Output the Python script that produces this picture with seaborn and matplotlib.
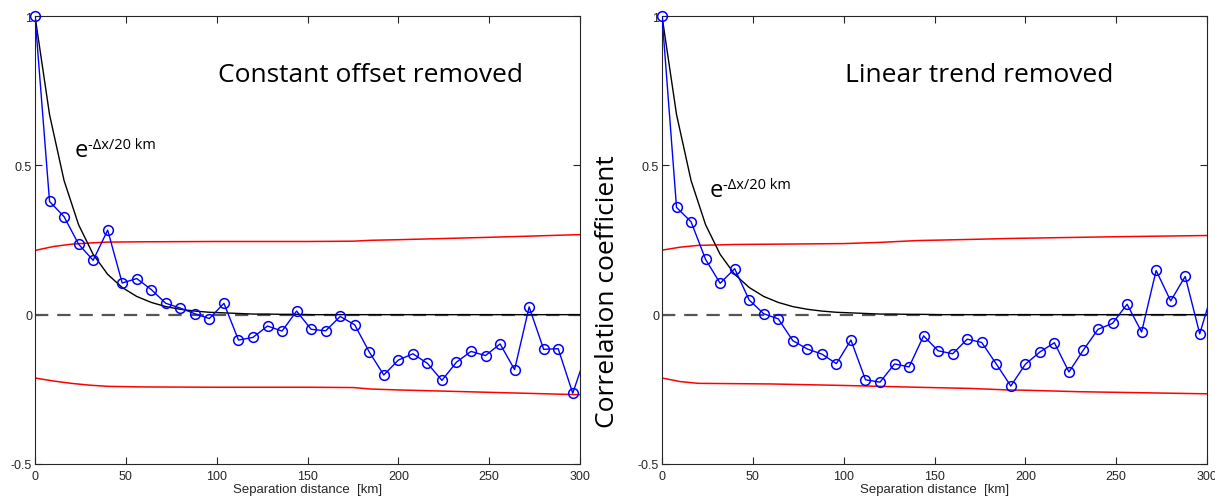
import numpy as np
import pandas as pd
import seaborn as sns
import matplotlib.pyplot as plt

# lag distances (km), 8 km bins; last one sits just outside the axis
lag = [0, 8, 16, 24, 32, 40, 48, 56, 64, 72, 80, 88, 96, 104, 112, 120, 128,
       136, 144, 152, 160, 168, 176, 184, 192, 200, 208, 216, 224, 232, 240,
       248, 256, 264, 272, 280, 288, 296, 304]

# correlation, constant offset removed
corr_offset = [1.0, 0.379, 0.328, 0.236, 0.182, 0.283, 0.106, 0.121, 0.084,
               0.038, 0.022, 0.003, -0.013, 0.038, -0.085, -0.076, -0.038,
               -0.055, 0.012, -0.049, -0.054, -0.006, -0.034, -0.125, -0.202,
               -0.152, -0.131, -0.163, -0.220, -0.159, -0.123, -0.137, -0.098,
               -0.184, 0.026, -0.116, -0.114, -0.263, -0.120]

# correlation, linear trend removed
corr_trend = [1.0, 0.359, 0.311, 0.185, 0.105, 0.154, 0.049, 0.003, -0.014,
              -0.087, -0.115, -0.132, -0.164, -0.085, -0.218, -0.226, -0.165,
              -0.175, -0.071, -0.121, -0.131, -0.082, -0.093, -0.165, -0.239,
              -0.166, -0.125, -0.094, -0.192, -0.118, -0.049, -0.029, 0.035,
              -0.058, 0.148, 0.046, 0.128, -0.064, 0.098]

# e^(-dx/20 km) reference curve, read at the same lags
expo = [1.0, 0.670, 0.449, 0.301, 0.202, 0.135, 0.091, 0.061, 0.041, 0.027,
        0.018, 0.012, 0.008, 0.006, 0.004, 0.002, 0.002, 0.001, 0.001, 0.0,
        0.0, 0.0, 0.0, 0.0, 0.0, 0.0, 0.0, 0.0, 0.0, 0.0, 0.0, 0.0, 0.0, 0.0,
        0.0, 0.0, 0.0, 0.0, 0.0]

# significance bounds (red)
bnd_x_l = [0, 10, 20, 30, 40, 60, 100, 150, 175, 185, 200, 250, 300]
up_l = [0.215, 0.228, 0.236, 0.240, 0.243, 0.244, 0.245, 0.245, 0.246, 0.249, 0.251, 0.259, 0.268]
lo_l = [-0.212, -0.222, -0.230, -0.236, -0.240, -0.242, -0.243, -0.243, -0.244, -0.249, -0.252, -0.260, -0.268]

bnd_x_r = [0, 10, 20, 40, 60, 100, 120, 140, 170, 190, 200, 230, 250, 300]
up_r = [0.216, 0.226, 0.232, 0.235, 0.236, 0.238, 0.242, 0.248, 0.252, 0.255, 0.256, 0.259, 0.261, 0.265]
lo_r = [-0.212, -0.224, -0.230, -0.231, -0.232, -0.237, -0.240, -0.243, -0.247, -0.252, -0.253, -0.258, -0.260, -0.265]

titles = ["Constant offset removed", "Linear trend removed"]
xticks = [0, 50, 100, 150, 200, 250, 300]
yticks = [-0.5, 0, 0.5, 1]
ytick_labels = ["-0.5", "0", "0.5", "1"]

sns.set_style("ticks")
plt.rcParams['font.family'] = ['Liberation Sans', 'DejaVu Sans']

grey = '#262626'
W, H = 1215, 502
fig = plt.figure(figsize=(12.15, 5.02), dpi=100)
ax1 = fig.add_axes([35 / W, 37 / H, 545 / W, 448 / H])
ax2 = fig.add_axes([662 / W, 37 / H, 545 / W, 448 / H])

# (axes, data, bound x, upper, lower, title, title pos, e pos, superscript pos)
panels = [
    (ax1, corr_offset, bnd_x_l, up_l, lo_l, titles[0], (370, 75), (75, 157), (88, 149)),
    (ax2, corr_trend, bnd_x_r, up_r, lo_r, titles[1], (979, 75), (710, 197), (723, 189)),
]

for ax, corr, bx, up, lo, title, tpos, epos, spos in panels:
    df = pd.DataFrame({'lag': lag, 'r': corr, 'expo': expo})
    ax.axhline(0, color='#555555', lw=1.6, ls=(0, (6, 4)), zorder=1)
    sns.lineplot(x=bx, y=up, ax=ax, color='red', lw=1.1, zorder=2)
    sns.lineplot(x=bx, y=lo, ax=ax, color='red', lw=1.1, zorder=2)
    sns.lineplot(data=df, x='lag', y='expo', ax=ax, color='black', lw=1.0, zorder=3)
    sns.lineplot(data=df, x='lag', y='r', ax=ax, color='blue', lw=1.0, zorder=4)
    inside = df[df['lag'] <= 300]
    ax.plot(inside['lag'], inside['r'], ls='none', marker='o', ms=7,
            mfc='none', mec='blue', mew=1.1, clip_on=False, zorder=5)

    ax.set_xlim(0, 300)
    ax.set_ylim(-0.5, 1)
    ax.set_xticks(xticks)
    ax.set_yticks(yticks)
    ax.set_yticklabels(ytick_labels)
    ax.tick_params(direction='in', length=5, width=0.8, colors=grey,
                   labelsize=9, top=True, right=True, pad=2)
    ax.tick_params(axis='x', pad=4)
    for s in ax.spines.values():
        s.set_visible(True)
        s.set_color(grey)
        s.set_linewidth(0.8)
    ax.set_xlabel("Separation distance  [km]", fontsize=9.5, color=grey, labelpad=1)
    ax.set_ylabel("")

    fig.text(tpos[0] / W, 1 - tpos[1] / H, title, fontsize=19, color='black',
             family='Open Sans', ha='center', va='center')
    fig.text(epos[0] / W, 1 - epos[1] / H, "e", fontsize=17, color='black',
             family='Open Sans', ha='left', va='baseline')
    fig.text(spos[0] / W, 1 - spos[1] / H, "-\u0394x/20 km", fontsize=10.5,
             color='black', family='Open Sans', ha='left', va='baseline')

ax2.set_ylabel("Correlation coefficient", fontsize=19, family='Open Sans', color='black')
ax2.yaxis.set_label_coords(-0.077, (465 - 292) / 448)

fig.savefig("out.png", dpi=100)
